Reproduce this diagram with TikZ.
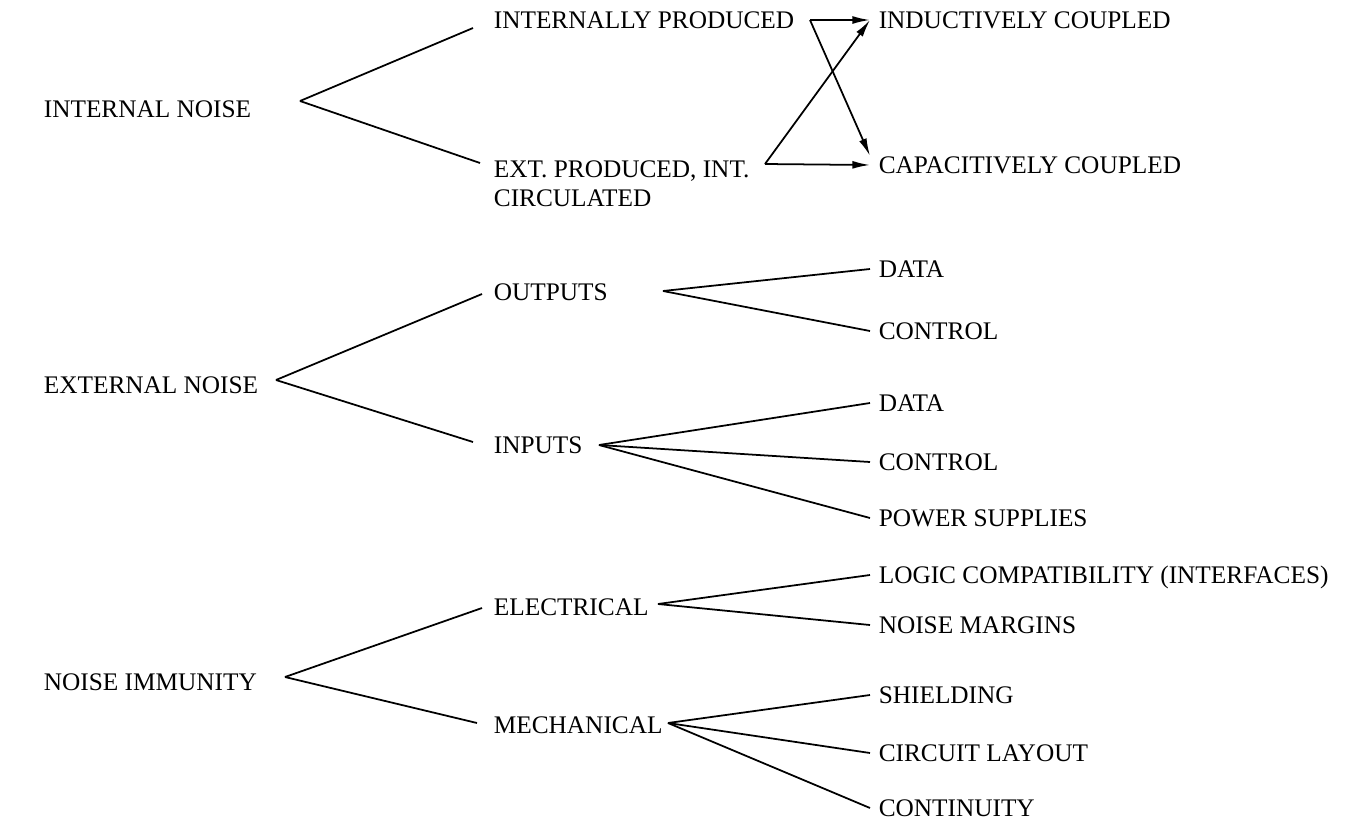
\documentclass[tikz,border=0pt]{standalone}
\usepackage{fontspec}
\setmainfont{Liberation Serif}
\usetikzlibrary{arrows.meta}

\begin{document}
\begin{tikzpicture}[x=0.02cm,y=-0.02cm,>={Latex[length=10pt,width=4.5pt]},
 line width=1pt,
 lbl/.style={anchor=west,inner xsep=0pt,inner ysep=0pt,text height=9.4pt,
 text depth=0pt,font=\fontsize{14.4}{16.5}\selectfont},
 leaf/.style={lbl,inner xsep=4.5pt},every edge/.style={draw}]
\useasboundingbox (0,0) rectangle (1350,822);
% first column
\node[lbl] (in) at (43,109) {INTERNAL NOISE};
\node[lbl] (en) at (43,385) {EXTERNAL NOISE};
\node[lbl] (ni) at (43,682) {NOISE IMMUNITY};
% second column
\node[lbl] (ip) at (493,20) {INTERNALLY PRODUCED};
\node[anchor=north west,inner sep=0pt,align=left,
 font=\fontsize{14.4}{16.5}\selectfont] (ep) at (493,159.6)
 {EXT. PRODUCED, INT.\\CIRCULATED};
\node[lbl] (out) at (493,292) {OUTPUTS};
\node[lbl] (inp) at (493,445) {INPUTS};
\node[lbl] (el) at (493,607) {ELECTRICAL};
\node[lbl] (mech) at (493,725) {MECHANICAL};
% third column
\node[leaf] (ic) at (870,20) {INDUCTIVELY COUPLED};
\node[leaf] (cc) at (870,165) {CAPACITIVELY COUPLED};
\node[leaf] (od) at (870,269) {DATA};
\node[leaf] (oc) at (870,331) {CONTROL};
\node[leaf] (id) at (870,403) {DATA};
\node[leaf] (ictl) at (870,462) {CONTROL};
\node[leaf] (ips) at (870,518) {POWER SUPPLIES};
\node[leaf] (lc) at (870,575) {LOGIC COMPATIBILITY (INTERFACES)};
\node[leaf] (nm) at (870,625) {NOISE MARGINS};
\node[leaf] (sh) at (870,695) {SHIELDING};
\node[leaf] (cl) at (870,753) {CIRCUIT LAYOUT};
\node[leaf] (co) at (870,808) {CONTINUITY};
% branch points and line ends
\coordinate (in-v) at (300,101);
\coordinate (in-a) at (473,28);
\coordinate (in-b) at (480,163);
\coordinate (en-v) at (276,380);
\coordinate (en-a) at (482,294);
\coordinate (en-b) at (473,442);
\coordinate (ni-v) at (285,677);
\coordinate (ni-a) at (482,608);
\coordinate (ni-b) at (477,723);
\coordinate (out-v) at (663,291);
\coordinate (inp-v) at (599,445);
\coordinate (el-v) at (658,604);
\coordinate (mech-v) at (668,723);
\coordinate (ip-o) at (810,20);
\coordinate (ep-o) at (765,164);
\path (in-v) edge (in-a) edge (in-b)
      (en-v) edge (en-a) edge (en-b)
      (ni-v) edge (ni-a) edge (ni-b)
      (out-v) edge (od.west) edge (oc.west)
      (inp-v) edge (id.west) edge (ictl.west) edge (ips.west)
      (el-v) edge (lc.west) edge (nm.west)
      (mech-v) edge (sh.west) edge (cl.west) edge (co.west);
% coupling arrows
\path (ip-o) edge[->] (ic.west) edge[->] (cc.north west)
      (ep-o) edge[->] (ic.west) edge[->] (cc.west);
\end{tikzpicture}
\end{document}
